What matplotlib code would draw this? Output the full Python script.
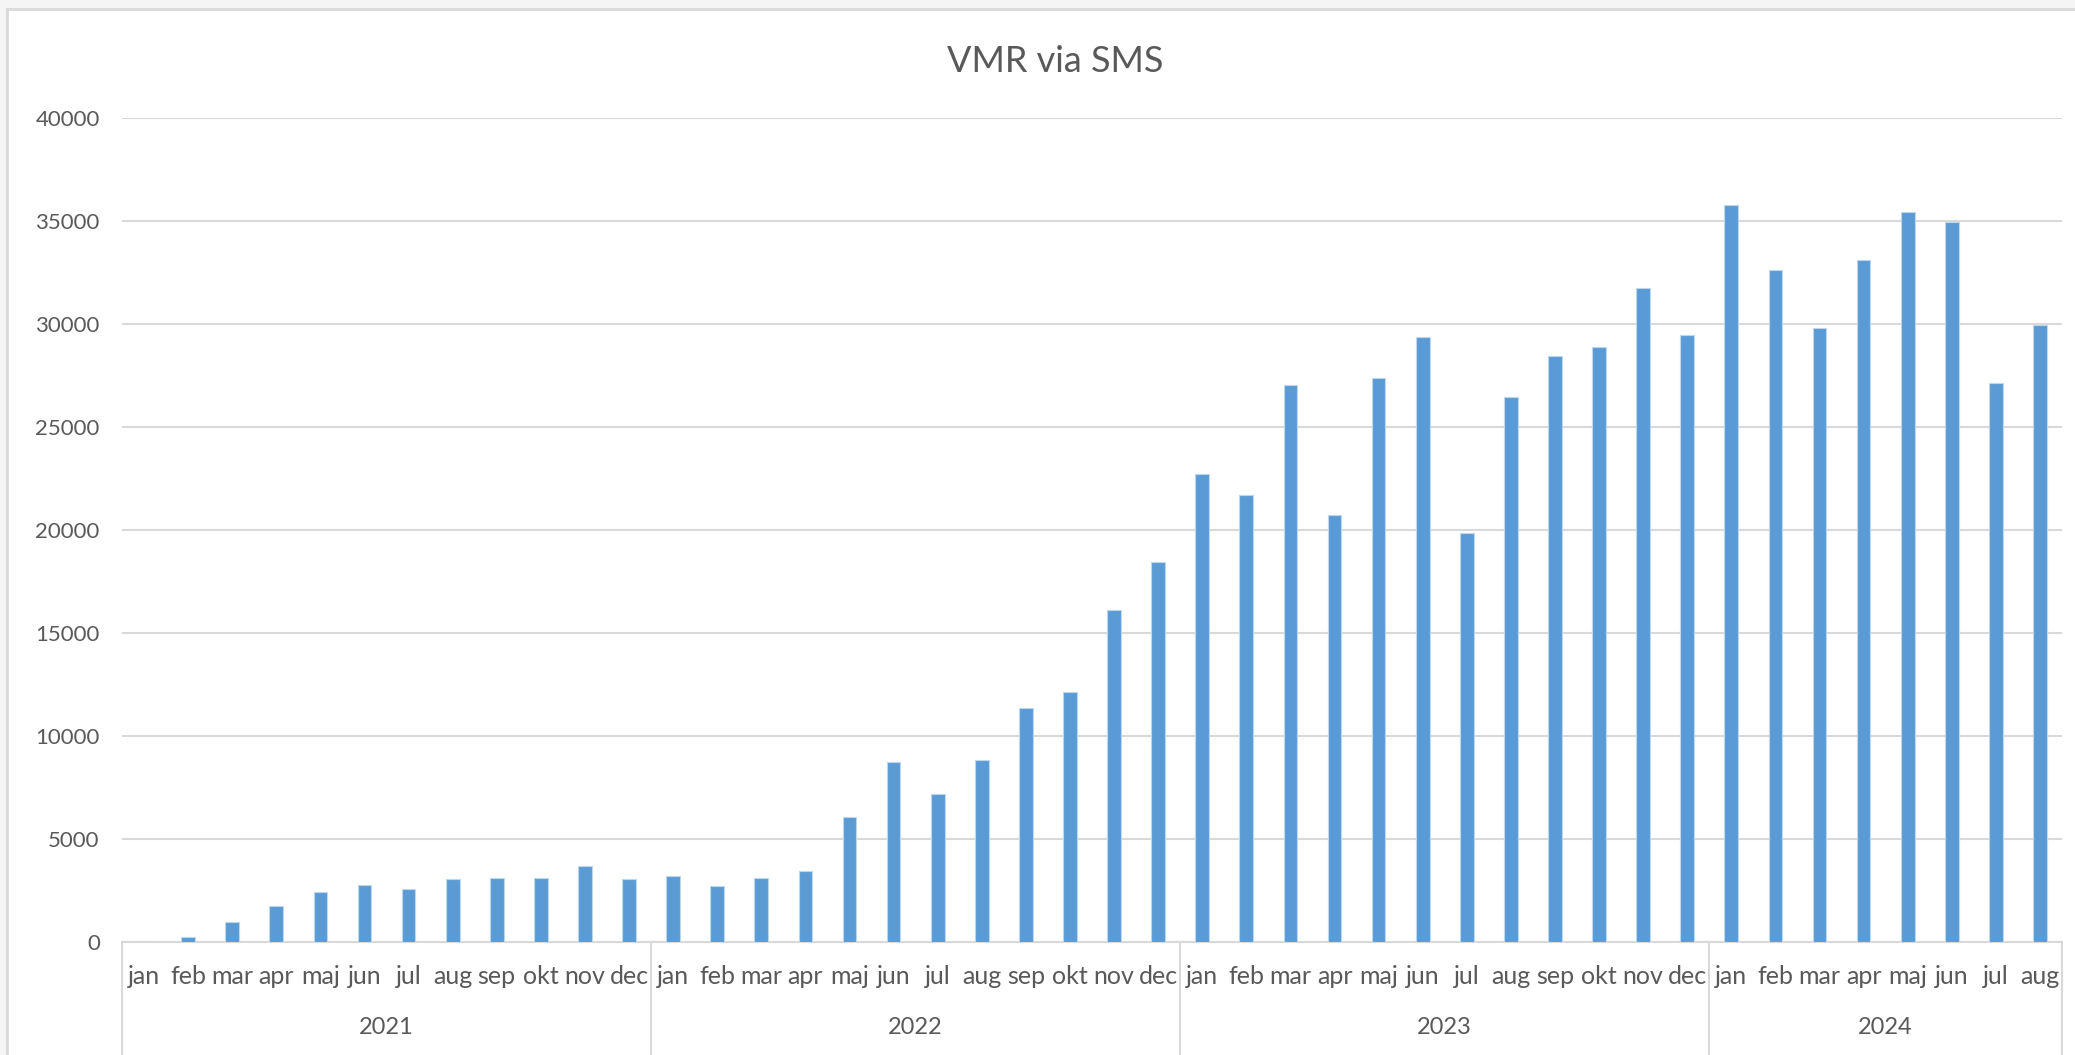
import numpy as np
import matplotlib
matplotlib.use("Agg")
import matplotlib.pyplot as plt
from matplotlib.patches import Rectangle
from matplotlib.transforms import blended_transform_factory

plt.rcParams['font.family'] = ['Lato', 'DejaVu Sans']

# data
years = ['2021', '2022', '2023', '2024']
months = ['jan', 'feb', 'mar', 'apr', 'maj', 'jun', 'jul', 'aug', 'sep', 'okt', 'nov', 'dec']
months_per_year = [12, 12, 12, 8]
v2021 = [0, 250, 1000, 1770, 2450, 2800, 2600, 3070, 3140, 3140, 3680, 3070]
v2022 = [3200, 2740, 3140, 3480, 6100, 8770, 7180, 8830, 11360, 12120, 16100, 18430]
v2023 = [22720, 21680, 27040, 20730, 27380, 29360, 19840, 26470, 28450, 28900, 31720, 29450]
v2024 = [35750, 32600, 29780, 33080, 35410, 34920, 27120, 29930]

values = v2021 + v2022 + v2023 + v2024
labels = []
for n in months_per_year:
    labels += months[:n]

W, H = 2075, 1055
fig = plt.figure(figsize=(W / 100, H / 100), dpi=100)
fig.patch.set_facecolor('#f5f5f5')
# white chart area with light border
fig.patches.append(Rectangle((7 / W, -0.1), 1.2, 1.1 - 9 / H, transform=fig.transFigure,
                             facecolor='white', edgecolor='#d9d9d9', linewidth=2, zorder=-10))

left, right = 122 / W, 2062 / W
bottom, top = (H - 942.3) / H, (H - 117.7) / H
ax = fig.add_axes([left, bottom, right - left, top - bottom])
ax.set_facecolor('none')

grey = '#595959'
x = np.arange(len(values))
ax.bar(x, values, width=0.31, color='#5b9bd5', edgecolor='#bdd7ee', linewidth=0.8, zorder=3)

ax.set_xlim(-0.5, len(values) - 0.5)
ax.set_ylim(0, 40000)
ax.set_yticks(np.arange(0, 40001, 5000))
ax.yaxis.grid(True, color='#d9d9d9', linewidth=1.5, zorder=0)
ax.set_axisbelow(True)
for s in ['top', 'right', 'left']:
    ax.spines[s].set_visible(False)
ax.spines['bottom'].set_color('#d9d9d9')
ax.spines['bottom'].set_linewidth(1.5)
ax.tick_params(axis='y', length=0, pad=16, labelsize=16, labelcolor=grey)

ax.set_xticks(x)
ax.set_xticklabels(labels)
ax.tick_params(axis='x', length=0, pad=16, labelsize=18, labelcolor=grey)

# year groups below months
trans = blended_transform_factory(ax.transData, ax.transAxes)
axh = 942.3 - 117.7
y_bot = -(H - 942.3) / axh
start = 0
bounds = [-0.5]
for yr, n in zip(years, months_per_year):
    ax.text(start + (n - 1) / 2, -(1028 - 942.3) / axh, yr, transform=trans,
            ha='center', va='center', fontsize=17, color=grey)
    start += n
    bounds.append(start - 0.5)
for b in bounds:
    ax.plot([b, b], [0, y_bot], transform=trans, color='#d9d9d9', linewidth=1.5,
            clip_on=False)

fig.text(1055 / W, 1 - 62 / H, 'VMR via SMS', ha='center', va='center',
         fontsize=26, color=grey)

fig.savefig('out.png', dpi=100, facecolor=fig.get_facecolor())
